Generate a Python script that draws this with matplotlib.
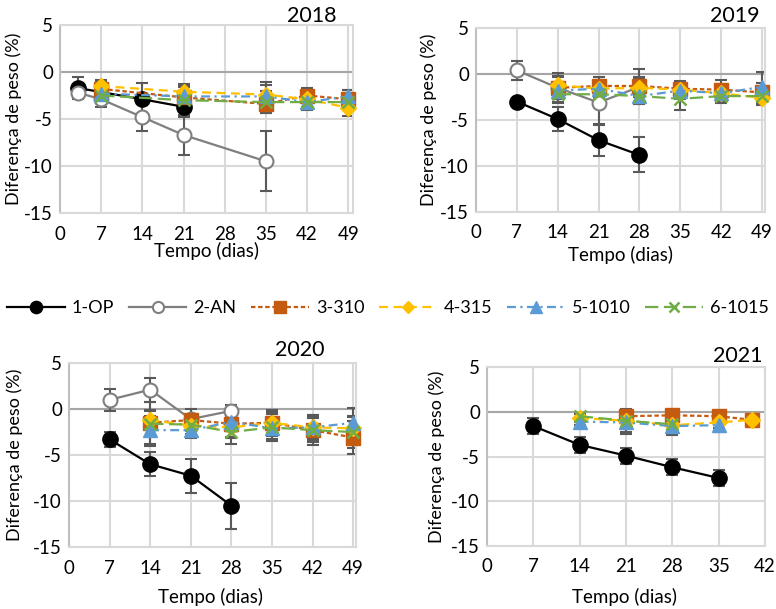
import numpy as np
import matplotlib.pyplot as plt
from matplotlib.lines import Line2D

plt.rcParams['font.family'] = ['Lato', 'DejaVu Sans']
plt.rcParams['axes.unicode_minus'] = False

# ---------------- data ----------------
names = ['1-OP', '2-AN', '3-310', '4-315', '5-1010', '6-1015']

# 2018
x18 = {
    '1-OP': [3, 14, 21],
    '2-AN': [3, 7, 14, 21, 35],
    '3-310': [7, 21, 35, 42, 49],
    '4-315': [7, 21, 35, 42, 49],
    '5-1010': [7, 21, 35, 42, 49],
    '6-1015': [7, 21, 35, 42, 49],
}
y18 = {
    '1-OP': [-1.7, -2.9, -3.7],
    '2-AN': [-2.2, -2.9, -4.8, -6.7, -9.5],
    '3-310': [-1.8, -2.7, -3.4, -2.5, -2.9],
    '4-315': [-1.5, -2.1, -2.4, -2.9, -3.8],
    '5-1010': [-2.3, -2.6, -2.6, -3.2, -2.6],
    '6-1015': [-2.5, -3.0, -3.2, -3.2, -3.2],
}
e18 = {
    '1-OP': [1.2, 1.7, 1.1],
    '2-AN': [0.6, 0.8, 1.5, 2.1, 3.2],
    '3-310': [0.8, 1.2, 1.0, 0.8, 1.0],
    '4-315': [0.6, 0.8, 1.0, 0.8, 0.9],
    '5-1010': [0.8, 1.0, 1.5, 0.8, 0.7],
    '6-1015': [0.8, 1.0, 1.2, 0.6, 0.8],
}

# 2019
x19 = {
    '1-OP': [7, 14, 21, 28],
    '2-AN': [7, 14, 21, 28],
    '3-310': [14, 21, 28, 35, 42, 49],
    '4-315': [14, 21, 28, 35, 42, 49],
    '5-1010': [14, 21, 28, 35, 42, 49],
    '6-1015': [14, 21, 28, 35, 42, 49],
}
y19 = {
    '1-OP': [-3.0, -4.9, -7.2, -8.8],
    '2-AN': [0.4, -1.5, -3.1, -1.4],
    '3-310': [-1.5, -1.3, -1.3, -1.6, -1.7, -2.0],
    '4-315': [-1.2, -1.6, -1.5, -1.7, -2.1, -2.6],
    '5-1010': [-1.8, -1.6, -2.4, -1.8, -2.1, -1.4],
    '6-1015': [-2.2, -2.2, -2.4, -2.7, -2.4, -2.4],
}
e19 = {
    '1-OP': [0.3, 1.3, 1.7, 1.9],
    '2-AN': [1.0, 1.6, 2.3, 1.9],
    '3-310': [1.2, 1.0, 1.0, 0.8, 1.0, 1.0],
    '4-315': [1.0, 0.9, 1.0, 0.8, 0.9, 0.8],
    '5-1010': [0.9, 0.8, 0.9, 0.9, 0.9, 1.6],
    '6-1015': [0.8, 0.9, 0.8, 1.2, 0.8, 0.8],
}

# 2020
x20 = {
    '1-OP': [7, 14, 21, 28],
    '2-AN': [7, 14, 21, 28],
    '3-310': [14, 21, 28, 35, 42, 49],
    '4-315': [14, 21, 28, 35, 42, 49],
    '5-1010': [14, 21, 28, 35, 42, 49],
    '6-1015': [14, 21, 28, 35, 42, 49],
}
y20 = {
    '1-OP': [-3.3, -6.0, -7.25, -10.5],
    '2-AN': [1.0, 2.1, -1.1, -0.2],
    '3-310': [-1.5, -1.2, -1.6, -1.5, -2.3, -3.1],
    '4-315': [-1.2, -1.8, -2.0, -1.5, -2.0, -2.1],
    '5-1010': [-2.3, -2.3, -1.4, -2.1, -2.0, -1.5],
    '6-1015': [-1.6, -1.7, -2.5, -2.0, -2.3, -2.5],
}
e20 = {
    '1-OP': [0.8, 1.3, 1.85, 2.5],
    '2-AN': [1.2, 1.3, 0.5, 0.6],
    '3-310': [1.4, 1.2, 1.5, 1.4, 1.6, 1.8],
    '4-315': [1.0, 1.0, 1.0, 1.2, 1.2, 1.2],
    '5-1010': [1.5, 0.8, 1.0, 1.2, 1.4, 1.6],
    '6-1015': [2.4, 1.0, 1.3, 1.5, 1.3, 1.7],
}

# 2021
x21 = {
    '1-OP': [7, 14, 21, 28, 35],
    '2-AN': [],
    '3-310': [21, 28, 35, 40],
    '4-315': [14, 21, 28, 35, 40],
    '5-1010': [14, 21, 28, 35],
    '6-1015': [14, 21, 28],
}
y21 = {
    '1-OP': [-1.6, -3.7, -4.9, -6.2, -7.4],
    '2-AN': [],
    '3-310': [-0.5, -0.4, -0.5, -0.9],
    '4-315': [-0.7, -1.0, -1.5, -1.2, -0.9],
    '5-1010': [-1.1, -1.2, -1.6, -1.5],
    '6-1015': [-0.5, -1.0, -1.4],
}
e21 = {
    '1-OP': [0.9, 0.9, 0.9, 0.9, 0.9],
    '2-AN': [],
    '3-310': [0.6, 0.4, 0.4, 0.3],
    '4-315': [0.4, 1.3, 0.8, 0.6, 0.3],
    '5-1010': [0.4, 1.3, 1.0, 0.8],
    '6-1015': [0.3, 0.8, 0.6],
}

# ---------------- styles ----------------
styles = {
    '1-OP':   dict(color='black', ls='-', marker='o', ms=11, mfc='black', mec='black'),
    '2-AN':   dict(color='#7f7f7f', ls='-', marker='o', ms=10, mfc='white', mec='#7f7f7f', mew=1.5),
    '3-310':  dict(color='#c55a11', ls=(0, (2, 1.2)), marker='s', ms=10, mfc='#c55a11', mec='#c55a11'),
    '4-315':  dict(color='#ffc000', ls=(0, (4, 2.5)), marker='D', ms=8, mfc='#ffc000', mec='#ffc000'),
    '5-1010': dict(color='#5b9bd5', ls=(0, (4, 2, 1, 2)), marker='^', ms=10, mfc='#5b9bd5', mec='#5b9bd5'),
    '6-1015': dict(color='#70ad47', ls=(0, (6, 2.5)), marker='x', ms=9, mfc='#70ad47', mec='#70ad47', mew=1.8),
}

W, H = 776, 609
fig = plt.figure(figsize=(W / 100, H / 100), dpi=100)


def fx(px):
    return px / W


def fy(py):
    return 1 - py / H


# (left, right, top, bottom) in pixels, x max, data, title pos, ylabel pos, xlabel pos
panels = [
    (60, 353, 25, 213, 49.8, x18, y18, e18, '2018', (312, 16), (14, 119), (207, 251)),
    (476, 765, 28, 212, 49.5, x19, y19, e19, '2019', (735, 16), (429, 120), (620, 255)),
    (69, 356, 363, 547, 49.5, x20, y20, e20, '2020', (300, 350), (15, 455), (210, 597)),
    (487, 765, 367, 546, 42, x21, y21, e21, '2021', (738, 356), (437, 457), (625, 597)),
]

for (l, r, t, b, xmax, xs, ys, es, year, tpos, ylpos, xlpos) in panels:
    ax = fig.add_axes([fx(l), fy(b), fx(r - l), (b - t) / H])
    ax.set_xlim(0, xmax)
    ax.set_ylim(-15, 5)
    ax.set_xticks(np.arange(0, xmax + 0.01, 7))
    ax.set_yticks([5, 0, -5, -10, -15])
    ax.grid(True, color='#d9d9d9', lw=1.5)
    ax.set_axisbelow(True)
    for sp in ax.spines.values():
        sp.set_color('#d9d9d9')
        sp.set_linewidth(1.5)
    ax.spines['left'].set_color('#bfbfbf')
    ax.axhline(0, color='#a6a6a6', lw=1.5, zorder=1)
    ax.tick_params(length=0, labelsize=13.5, colors='black')
    ax.tick_params(axis='x', pad=9)
    ax.tick_params(axis='y', pad=5)

    for n in names:
        if len(xs[n]) == 0:
            continue
        ax.errorbar(xs[n], ys[n], yerr=es[n], fmt='none', ecolor='#595959',
                    elinewidth=1.5, capsize=4, capthick=1.5, zorder=2)
        ax.plot(xs[n], ys[n], lw=1.6, zorder=3, clip_on=False, **styles[n])

    fig.text(fx(tpos[0]), fy(tpos[1]), year, fontsize=15.5, ha='center', va='center')
    fig.text(fx(ylpos[0]), fy(ylpos[1]), 'Diferença de peso (%)', fontsize=13,
             rotation=90, ha='center', va='center')
    fig.text(fx(xlpos[0]), fy(xlpos[1]), 'Tempo (dias)', fontsize=13.5,
             ha='center', va='center')

# legend
handles = []
for n in names:
    st = dict(styles[n])
    st['ms'] = st['ms'] * 0.8
    handles.append(Line2D([], [], lw=1.6, **st))
fig.legend(handles, names, loc='center', bbox_to_anchor=(0.5, fy(308)), ncol=6,
           frameon=False, fontsize=13, handlelength=3.2, handletextpad=0.4,
           columnspacing=0.8)

fig.savefig('out.png', dpi=100)
